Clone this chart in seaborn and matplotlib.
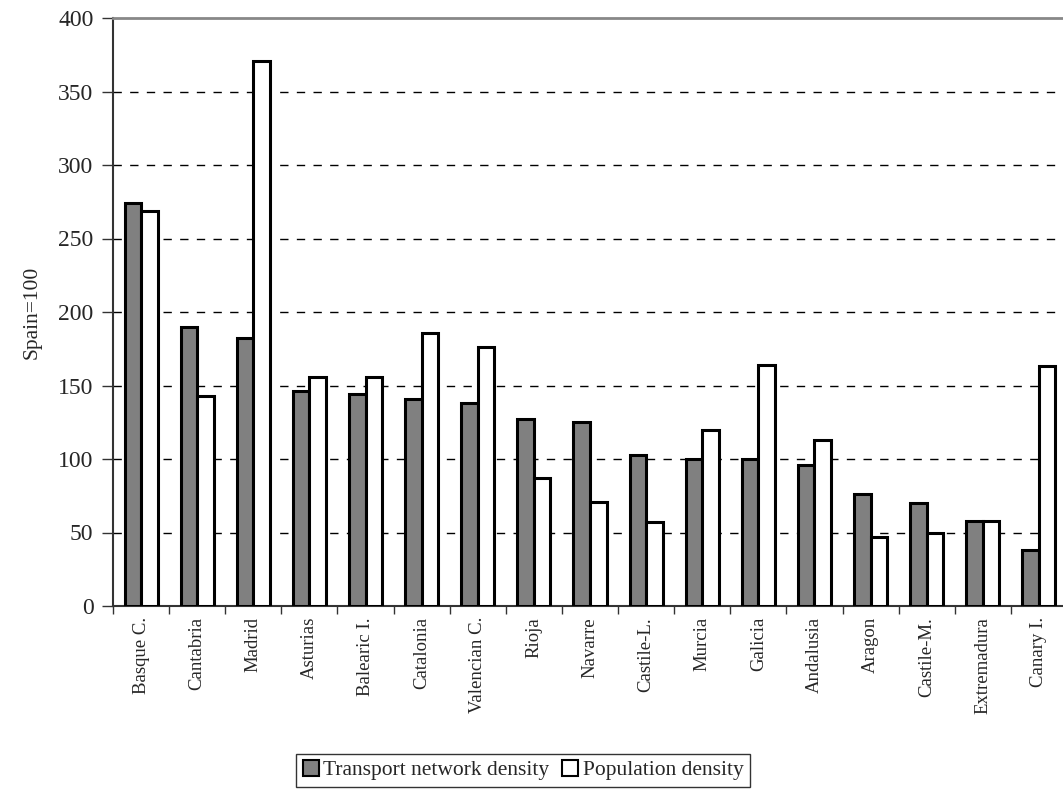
import matplotlib
matplotlib.use("Agg")
import matplotlib.pyplot as plt
import seaborn as sns
import pandas as pd
from matplotlib.patches import Patch

regions = ["Basque C.", "Cantabria", "Madrid", "Asturias", "Balearic I.", "Catalonia",
           "Valencian C.", "Rioja", "Navarre", "Castile-L.", "Murcia", "Galicia",
           "Andalusia", "Aragon", "Castile-M.", "Extremadura", "Canary I."]
transport = [274, 190, 182, 146, 144, 141, 138, 127, 125, 103, 100, 100, 96, 76, 70, 58, 38]
population = [269, 143, 371, 156, 156, 186, 176, 87, 71, 57, 120, 164, 113, 47, 50, 58, 163]
series = ["Transport network density", "Population density"]
yticks = [0, 50, 100, 150, 200, 250, 300, 350, 400]

df = pd.DataFrame({
    "region": regions * 2,
    "value": transport + population,
    "series": [series[0]] * len(regions) + [series[1]] * len(regions),
})

sns.set_theme(style="white")
plt.rcParams["font.family"] = ["Liberation Serif", "DejaVu Serif"]

W, H = 1063, 789
fig = plt.figure(figsize=(W / 100, H / 100), dpi=100)
ax = fig.add_axes([113 / W, 1 - 606 / H, (1067 - 113) / W, (606 - 18) / H])

colors = {series[0]: "#808080", series[1]: "#ffffff"}
sns.barplot(data=df, x="region", y="value", hue="series", order=regions,
            hue_order=series, palette=colors, width=0.59, gap=0,
            edgecolor="black", linewidth=2.2, saturation=1, ax=ax, legend=False, zorder=3)

ax.set_xlim(-0.5, len(regions) - 0.5)
ax.set_ylim(0, 400)
ax.set_yticks(yticks)
ax.set_yticklabels([str(v) for v in yticks], fontsize=17)
for y in yticks[1:-1]:
    ax.axhline(y, color="black", linestyle=(0, (6, 6)), linewidth=1.0, zorder=1)

ax.set_xticks([i - 0.5 for i in range(len(regions) + 1)], minor=False)
ax.set_xticklabels([""] * (len(regions) + 1))
ax.set_xticks(range(len(regions)), minor=True)
ax.set_xticklabels(regions, minor=True, rotation=90, fontsize=13.5, va="top", ha="center")
ax.tick_params(axis="x", which="major", direction="out", length=6, width=1, color="#333333", bottom=True)
ax.tick_params(axis="x", which="minor", length=0, pad=8)
ax.tick_params(axis="y", direction="out", length=8, width=1, color="#333333", left=True, pad=6)

ax.set_xlabel("")
ax.set_ylabel("Spain=100", fontsize=15.5, labelpad=12)

for s in ["left", "bottom"]:
    ax.spines[s].set_color("#333333")
    ax.spines[s].set_linewidth(1.5)
ax.spines["top"].set_color("#888888")
ax.spines["top"].set_linewidth(2)
ax.spines["right"].set_visible(False)

handles = [Patch(facecolor=colors[s], edgecolor="black", linewidth=1.5, label=s) for s in series]
leg = fig.legend(handles=handles, loc="lower center", bbox_to_anchor=(523 / W, 0.0),
                 ncol=2, fontsize=15.5, frameon=True, fancybox=False, borderpad=0.3,
                 handlelength=0.75, handleheight=0.75, handletextpad=0.2, columnspacing=0.6,
                 borderaxespad=0.1)
leg.get_frame().set_edgecolor("black")
leg.get_frame().set_linewidth(1.0)

fig.savefig("out.png", dpi=100)
